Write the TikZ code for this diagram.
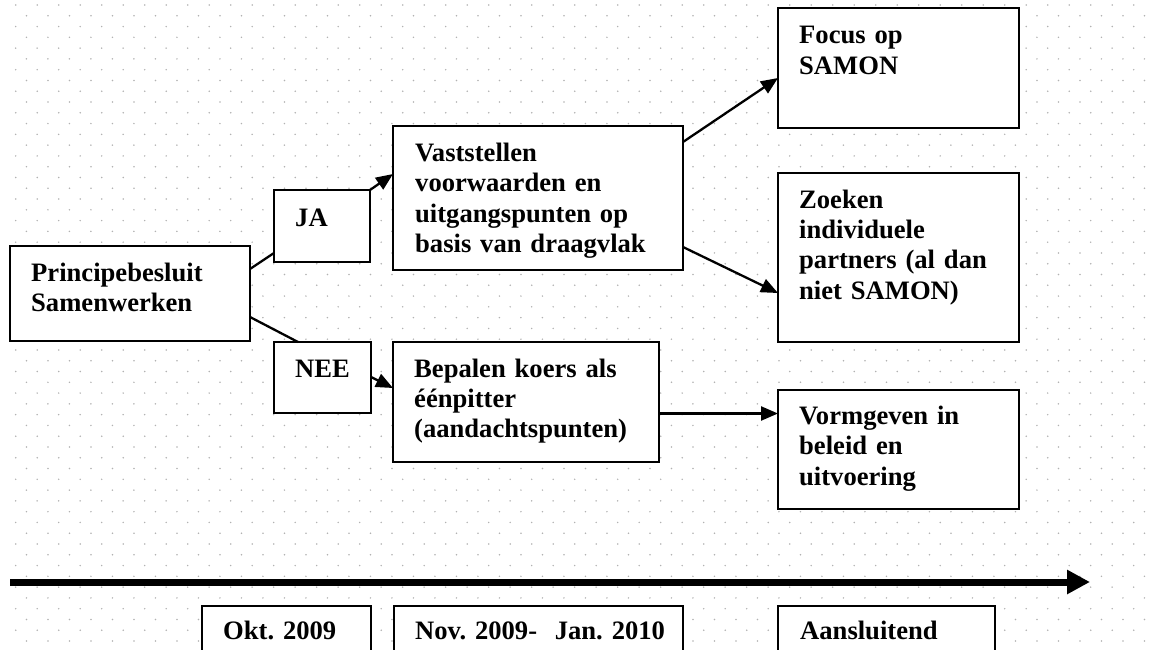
\documentclass[tikz,border=0pt]{standalone}
\usepackage{fontspec}
\setmainfont{Liberation Serif}
\usetikzlibrary{arrows.meta}
\tikzset{
  box/.style={draw, line width=2.2pt, fill=white, inner sep=0pt, outer sep=0pt, anchor=north west},
  txt/.style={anchor=base west, inner sep=0pt, align=left, text width=280pt,
    font=\fontsize{26.6}{30.4}\selectfont\bfseries\frenchspacing},
  conn/.style={line width=2.3pt},
  arr/.style={line width=2.3pt, -{Triangle[length=17pt,width=14pt]}},
  dot/.style={fill=black!30},
}
\begin{document}
\begin{tikzpicture}[x=1pt,y=-1pt]
\useasboundingbox (0,0) rectangle (1152,650);
\clip (0,0) rectangle (1152,650);
% dotted grid background
\foreach \k in {0,...,30}{
  \foreach \j in {0,...,52}{
    \fill[dot] (15.7+21.5*\j, 5+21.56*\k) circle[radius=0.85pt];
    \fill[dot] (26.45+21.5*\j, 15.78+21.56*\k) circle[radius=0.85pt];
  }
}
% boxes
\node[box, minimum width=240pt, minimum height=95pt] (P) at (10,246) {};
\node[box, minimum width=96pt, minimum height=72pt] (JA) at (274,190) {};
\node[box, minimum width=97pt, minimum height=71pt] (NEE) at (274,342) {};
\node[box, minimum width=290pt, minimum height=144pt] (V) at (393,126) {};
\node[box, minimum width=266pt, minimum height=120pt] (B) at (393,342) {};
\node[box, minimum width=241pt, minimum height=120pt] (F) at (778,8) {};
\node[box, minimum width=241pt, minimum height=169pt] (Z) at (778,173) {};
\node[box, minimum width=241pt, minimum height=119pt] (VG) at (778,390) {};
\node[box, minimum width=169pt, minimum height=70pt] (OK) at (202,606) {};
\node[box, minimum width=289pt, minimum height=70pt] (NV) at (394,606) {};
\node[box, minimum width=217pt, minimum height=70pt] (AS) at (778,606) {};
% texts
\node[txt] (Pt) at ([xshift=21pt,yshift=-35.5pt]P.north west) {Principebesluit\\Samenwerken};
\node[txt] (JAt) at ([xshift=21pt,yshift=-36pt]JA.north west) {JA};
\node[txt] (NEEt) at ([xshift=21pt,yshift=-35.5pt]NEE.north west) {NEE};
\node[txt] (Vt) at ([xshift=22pt,yshift=-35.5pt]V.north west) {Vaststellen\\voorwaarden en\\uitgangspunten op\\basis van draagvlak};
\node[txt] (Bt) at ([xshift=21pt,yshift=-35pt]B.north west) {Bepalen koers als\\éénpitter\\(aandachtspunten)};
\node[txt] (Ft) at ([xshift=21pt,yshift=-36pt]F.north west) {Focus op\\SAMON};
\node[txt] (Zt) at ([xshift=21pt,yshift=-35pt]Z.north west) {Zoeken\\individuele\\partners (al dan\\niet SAMON)};
\node[txt] (VGt) at ([xshift=21pt,yshift=-34.5pt]VG.north west) {Vormgeven in\\beleid en\\uitvoering};
\node[txt] (OKt) at ([xshift=21pt,yshift=-33.3pt]OK.north west) {Okt. 2009};
\node[txt] (NVt) at ([xshift=21pt,yshift=-33.3pt]NV.north west) {Nov. 2009-\ \ Jan. 2010};
\node[txt] (ASt) at ([xshift=22pt,yshift=-33.3pt]AS.north west) {Aansluitend};
% connectors
\draw[conn] ([yshift=-23pt]P.north east) -- ([yshift=9pt]JA.south west);
\draw[arr] (JA.north east) -- ([yshift=-48pt]V.north west);
\draw[conn] ([yshift=24pt]P.south east) -- ([xshift=24pt]NEE.north west);
\draw[arr] ([yshift=-35pt]NEE.north east) -- ([yshift=-46pt]B.north west);
\draw[arr] ([yshift=-16pt]V.north east) -- ([yshift=-70pt]F.north west);
\draw[arr] ([yshift=23pt]V.south east) -- ([yshift=-120pt]Z.north west);
\draw[arr] ([yshift=-71.5pt]B.north east) -- ([yshift=-23.5pt]VG.north west);
% timeline
\coordinate (tl1) at (10,582);
\coordinate (tl2) at (1090,582);
\draw[line width=7pt, -{Triangle[length=23pt,width=23pt]}] (tl1) -- (tl2);
\end{tikzpicture}
\end{document}
